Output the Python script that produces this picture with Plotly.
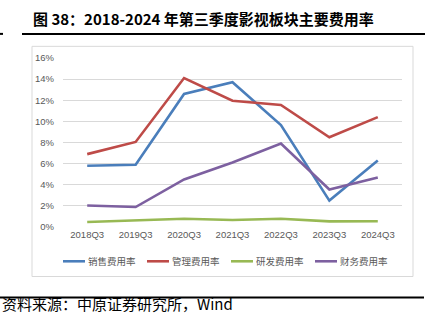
import plotly.graph_objects as go

categories = ["2018Q3", "2019Q3", "2020Q3", "2021Q3", "2022Q3", "2023Q3", "2024Q3"]
sales_rate = [5.8, 5.9, 12.6, 13.7, 9.65, 2.5, 6.3]
admin_rate = [6.9, 8.05, 14.1, 11.95, 11.55, 8.5, 10.4]
rd_rate = [0.47, 0.62, 0.78, 0.66, 0.78, 0.53, 0.55]
fin_rate = [2.04, 1.89, 4.5, 6.1, 7.9, 3.55, 4.68]
series_names = ["销售费用率", "管理费用率", "研发费用率", "财务费用率"]
colors = ["#4A7EBB", "#BE4B48", "#98B954", "#7D60A0"]
y_ticks = [0, 2, 4, 6, 8, 10, 12, 14, 16]

W, H = 435, 322
L, R, T, B = 63, 33, 57.7, 94.7
pw, ph = W - L - R, H - T - B

def px(x):
    return (x - L) / pw

def py(y):
    return (H - B - y) / ph

fig = go.Figure()
for name, vals, c in zip(series_names, [sales_rate, admin_rate, rd_rate, fin_rate], colors):
    fig.add_trace(go.Scatter(x=categories, y=vals, name=name, mode="lines",
                             line=dict(color=c, width=2.6), showlegend=False))

cjk = "Noto Sans CJK SC"
fig.update_layout(
    width=W, height=H,
    margin=dict(l=L, r=R, t=T, b=B),
    paper_bgcolor="white", plot_bgcolor="white",
    showlegend=False,
    xaxis=dict(type="category", range=[-0.5, 6.5], showgrid=False, zeroline=False,
               showline=False, ticks="", tickfont=dict(family="Liberation Sans", size=9.5, color="#595959")),
    yaxis=dict(range=[0, 16], tickvals=y_ticks, ticktext=[f"{v}%" for v in y_ticks],
               showgrid=True, gridcolor="#D9D9D9", gridwidth=1, zeroline=False,
               showline=False, ticks="", ticklabelstandoff=8,
               tickfont=dict(family="Liberation Sans", size=9.5, color="#595959")),
)

shapes = [
    # chart border
    dict(type="rect", xref="paper", yref="paper", x0=px(32), x1=px(413), y0=py(277), y1=py(46),
         line=dict(color="#D9D9D9", width=1), fillcolor="rgba(0,0,0,0)", layer="below"),
    # title underline
    dict(type="line", xref="paper", yref="paper", x0=px(22), x1=px(425), y0=py(33.5), y1=py(33.5),
         line=dict(color="black", width=2)),
    dict(type="line", xref="paper", yref="paper", x0=px(0), x1=px(3), y0=py(33.5), y1=py(33.5),
         line=dict(color="black", width=2)),
    # bottom rule
    dict(type="line", xref="paper", yref="paper", x0=px(0), x1=px(424), y0=py(298), y1=py(298),
         line=dict(color="black", width=2)),
]

# legend (drawn manually to match the compact Excel-style spacing)
leg_y = 261.7
for i, (name, c) in enumerate(zip(series_names, colors)):
    x0 = 63 + i * 84
    shapes.append(dict(type="line", xref="paper", yref="paper", x0=px(x0), x1=px(x0 + 22),
                       y0=py(leg_y), y1=py(leg_y), line=dict(color=c, width=2.6)))
    fig.add_annotation(text=name, xref="paper", yref="paper", x=px(x0 + 23), y=py(leg_y),
                       xanchor="left", yanchor="middle", showarrow=False,
                       font=dict(family=cjk, size=9.5, color="#595959"))
fig.update_layout(shapes=shapes)

fig.add_annotation(text="<b>图 38：2018-2024 年第三季度影视板块主要费用率</b>", xref="paper", yref="paper",
                   x=px(31), y=py(18), xanchor="left", yanchor="middle", showarrow=False,
                   font=dict(family=cjk, size=15, color="black"))
fig.add_annotation(text="资料来源：中原证券研究所，Wind", xref="paper", yref="paper",
                   x=px(0), y=py(304), xanchor="left", yanchor="middle", showarrow=False,
                   font=dict(family=cjk, size=15, color="black"))

fig.write_html("out.html")
